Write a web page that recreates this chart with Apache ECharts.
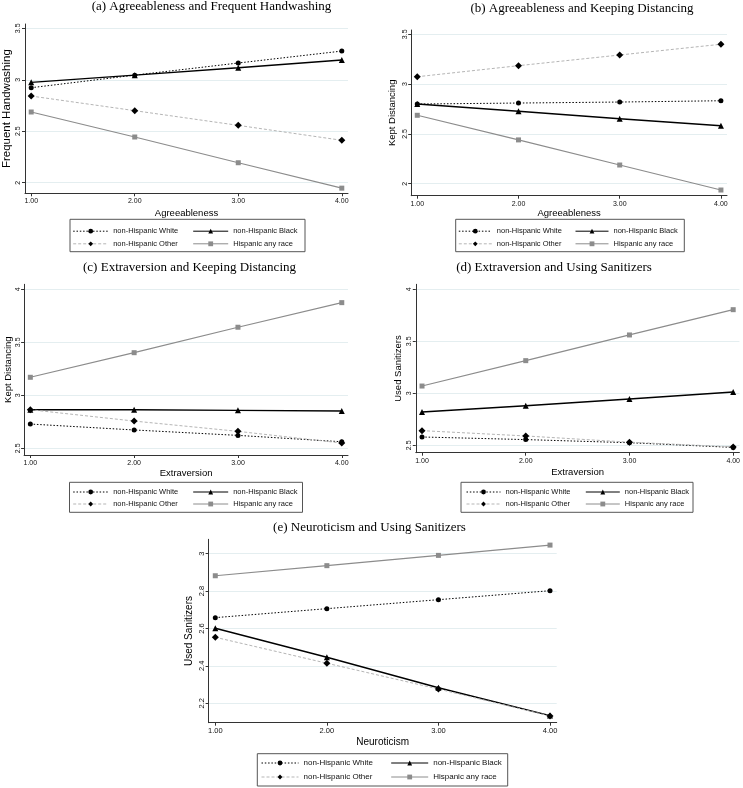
<!DOCTYPE html>
<html>
<head>
<meta charset="utf-8">
<script src="https://cdn.jsdelivr.net/npm/echarts@6/dist/echarts.min.js"></script>
<style>
html,body{margin:0;padding:0;background:#fff;}
#chart{width:743px;height:788px;}
</style>
</head>
<body>
<div id="chart"></div>
<script>
// ---------- DATA ----------
const xValues = [1, 2, 3, 4];
const xTickLabels = ['1.00', '2.00', '3.00', '4.00'];
const groupNames = ['non-Hispanic White', 'non-Hispanic Black', 'non-Hispanic Other', 'Hispanic any race'];

const panelTitles = [
  '(a) Agreeableness and Frequent Handwashing',
  '(b) Agreeableness and Keeping Distancing',
  '(c) Extraversion and Keeping Distancing',
  '(d) Extraversion and Using Sanitizers',
  '(e) Neuroticism and Using Sanitizers'
];
const xTitles = ['Agreeableness', 'Agreeableness', 'Extraversion', 'Extraversion', 'Neuroticism'];
const yTitles = ['Frequent Handwashing', 'Kept Distancing', 'Kept Distancing', 'Used Sanitizers', 'Used Sanitizers'];

const yTicksA = [2, 2.5, 3, 3.5];
const yTicksB = [2, 2.5, 3, 3.5];
const yTicksC = [2.5, 3, 3.5, 4];
const yTicksD = [2.5, 3, 3.5, 4];
const yTicksE = [2.2, 2.4, 2.6, 2.8, 3];

// (a) Agreeableness -> Frequent Handwashing
const aWhite = [2.923, 3.045, 3.163, 3.279];
const aBlack = [2.975, 3.045, 3.117, 3.192];
const aOther = [2.842, 2.700, 2.557, 2.412];
const aHisp  = [2.687, 2.444, 2.194, 1.947];
// (b) Agreeableness -> Kept Distancing
const bWhite = [2.800, 2.810, 2.820, 2.833];
const bBlack = [2.800, 2.727, 2.653, 2.582];
const bOther = [3.074, 3.185, 3.292, 3.400];
const bHisp  = [2.687, 2.440, 2.188, 1.937];
// (c) Extraversion -> Kept Distancing
const cWhite = [2.729, 2.673, 2.622, 2.562];
const cBlack = [2.864, 2.864, 2.858, 2.852];
const cOther = [2.864, 2.757, 2.660, 2.550];
const cHisp  = [3.170, 3.402, 3.642, 3.874];
// (d) Extraversion -> Used Sanitizers
const dWhite = [2.580, 2.555, 2.525, 2.480];
const dBlack = [2.820, 2.881, 2.945, 3.012];
const dOther = [2.641, 2.590, 2.530, 2.485];
const dHisp  = [3.070, 3.314, 3.561, 3.804];
// (e) Neuroticism -> Used Sanitizers
const eWhite = [2.658, 2.706, 2.754, 2.802];
const eBlack = [2.601, 2.446, 2.283, 2.134];
const eOther = [2.553, 2.414, 2.276, 2.132];
const eHisp  = [2.882, 2.936, 2.991, 3.046];

const panelData = [
  [aWhite, aBlack, aOther, aHisp],
  [bWhite, bBlack, bOther, bHisp],
  [cWhite, cBlack, cOther, cHisp],
  [dWhite, dBlack, dOther, dHisp],
  [eWhite, eBlack, eOther, eHisp]
];
const panelYTicks = [yTicksA, yTicksB, yTicksC, yTicksD, yTicksE];

// ---------- LAYOUT (styles / positions) ----------
const layout = [
  { grid: {left: 24.1, top: 24, width: 323.9, height: 169.3}, ymin: 1.897, ymax: 3.542,
    title: {cx: 211.5, top: 0.5}, xNameGap: 15, yNameGap: 12, yNameSize: 11.5, tickSize: 7, nameSize: 9.5,
    box: {x: 70, y: 219.3, w: 235, h: 32.4}, col1: 72.7, col2: 192.7, row1: 231.2, rowGap: 12.6, iw: 35, legSize: 7.5 },
  { grid: {left: 411.2, top: 30, width: 315.8, height: 165.7}, ymin: 1.880, ymax: 3.543,
    title: {cx: 582, top: 2.5}, xNameGap: 12, yNameGap: 14, yNameSize: 9.5, tickSize: 7, nameSize: 9.5,
    box: {x: 455.7, y: 219.3, w: 228.6, h: 32.4}, col1: 458.3, col2: 575, row1: 231.2, rowGap: 12.6, iw: 33, legSize: 7.5 },
  { grid: {left: 24.1, top: 284.3, width: 323.9, height: 170.7}, ymin: 2.437, ymax: 4.047,
    title: {cx: 189.5, top: 261}, xNameGap: 13, yNameGap: 9, yNameSize: 9.5, tickSize: 7, nameSize: 9.5,
    box: {x: 69.5, y: 482.3, w: 233, h: 30}, col1: 72.7, col2: 192.7, row1: 492, rowGap: 12, iw: 35, legSize: 7.5 },
  { grid: {left: 415.8, top: 284.3, width: 324.2, height: 168.4}, ymin: 2.429, ymax: 4.048,
    title: {cx: 554, top: 261}, xNameGap: 15, yNameGap: 12, yNameSize: 9.5, tickSize: 7, nameSize: 9.5,
    box: {x: 461, y: 482.3, w: 232, h: 30}, col1: 466, col2: 585.3, row1: 492, rowGap: 12, iw: 34, legSize: 7.5 },
  { grid: {left: 208.6, top: 539.3, width: 348.1, height: 183.4}, ymin: 2.096, ymax: 3.077,
    title: {cx: 369.5, top: 521}, xNameGap: 14.5, yNameGap: 14, yNameSize: 10, tickSize: 7.5, nameSize: 10,
    box: {x: 257.3, y: 753.7, w: 250.4, h: 32.3}, col1: 261, col2: 390.7, row1: 763, rowGap: 14, iw: 37, legSize: 8 }
];

const seriesStyles = [
  { symbol: 'circle', symbolSize: 5, color: '#000', line: {color: '#000', width: 1, type: [1.5, 1.8]} },
  { symbol: 'triangle', symbolSize: 6, color: '#000', line: {color: '#000', width: 1.4, type: 'solid'} },
  { symbol: 'diamond', symbolSize: 7, color: '#000', line: {color: '#b5b5b5', width: 1, type: [3, 2]} },
  { symbol: 'rect', symbolSize: 5, color: '#8c8c8c', line: {color: '#8c8c8c', width: 1.2, type: 'solid'} }
];

const SANS = 'Liberation Sans, Arial, sans-serif';
const SERIF = 'Liberation Serif, Times New Roman, serif';
const axisColor = '#333';
const gridColor = '#e4eef0';

const option = {
  animation: false,
  backgroundColor: '#fff',
  title: [], grid: [], xAxis: [], yAxis: [], series: [], legend: [], graphic: []
};

layout.forEach((L, i) => {
  option.title.push({
    text: panelTitles[i], left: L.title.cx, top: L.title.top, textAlign: 'center', padding: 0,
    textStyle: {fontFamily: SERIF, fontSize: 13, fontWeight: 'normal', color: '#000'}
  });
  option.grid.push(Object.assign({containLabel: false}, L.grid));
  option.xAxis.push({
    type: 'value', gridIndex: i, min: 0.94, max: 4.06,
    name: xTitles[i], nameLocation: 'middle', nameGap: L.xNameGap,
    nameTextStyle: {fontFamily: SANS, fontSize: L.nameSize, color: '#000'},
    axisLine: {show: true, onZero: false, lineStyle: {color: axisColor, width: 1}},
    axisTick: {show: true, customValues: xValues, length: 3, lineStyle: {color: axisColor}},
    axisLabel: {customValues: xValues, margin: 4.5, fontFamily: SANS, fontSize: L.tickSize, color: '#111',
      formatter: v => xTickLabels[xValues.indexOf(Math.round(v))] },
    splitLine: {show: false}
  });
  option.yAxis.push({
    type: 'value', gridIndex: i, min: L.ymin, max: L.ymax,
    name: yTitles[i], nameLocation: 'middle', nameGap: L.yNameGap,
    nameTextStyle: {fontFamily: SANS, fontSize: L.yNameSize, color: '#000'},
    axisLine: {show: true, onZero: false, lineStyle: {color: axisColor, width: 1}},
    axisTick: {show: true, customValues: panelYTicks[i], length: 3, lineStyle: {color: axisColor}},
    axisLabel: {customValues: panelYTicks[i], rotate: 90, margin: 3, fontFamily: SANS, fontSize: L.tickSize, color: '#111'},
    splitLine: {show: true, lineStyle: {color: gridColor, width: 1}}
  });
  panelData[i].forEach((arr, k) => {
    const S = seriesStyles[k];
    option.series.push({
      type: 'line', name: groupNames[k], xAxisIndex: i, yAxisIndex: i,
      data: xValues.map((x, j) => [x, arr[j]]),
      symbol: S.symbol, symbolSize: S.symbolSize, showSymbol: true,
      itemStyle: {color: S.color, borderWidth: 0},
      lineStyle: S.line, z: 2 + k, silent: true
    });
  });
  option.graphic.push({
    type: 'rect', z: 1, silent: true,
    shape: {x: L.box.x, y: L.box.y, width: L.box.w, height: L.box.h},
    style: {fill: '#fff', stroke: '#555', lineWidth: 1}
  });
  const lh = L.legSize + 1.5;
  [[groupNames[0], groupNames[2], L.col1], [groupNames[1], groupNames[3], L.col2]].forEach(c => {
    option.legend.push({
      data: [c[0], c[1]], orient: 'vertical', left: c[2], top: L.row1 - lh / 2,
      padding: 0, itemGap: L.rowGap - lh, itemWidth: L.iw, itemHeight: 6, selectedMode: false,
      lineStyle: {width: 1},
      textStyle: {fontFamily: SANS, fontSize: L.legSize, color: '#111', lineHeight: lh}, z: 10
    });
  });
});

const chart = echarts.init(document.getElementById('chart'), null, {renderer: 'canvas'});
chart.setOption(option);
</script>
</body>
</html>
